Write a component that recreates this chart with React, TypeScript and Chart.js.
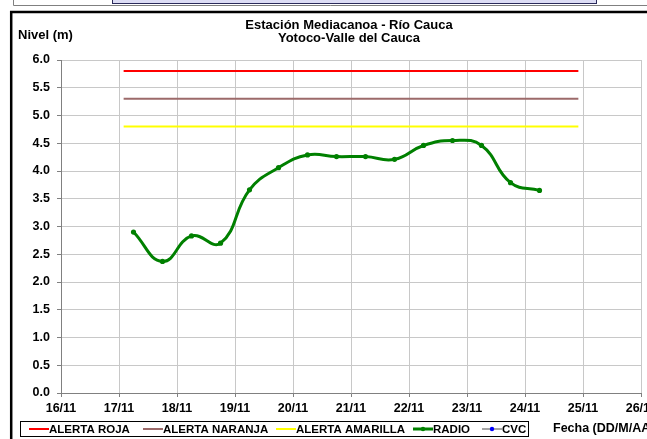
import { useEffect, useRef } from "react";
import { Chart, registerables } from "chart.js";

Chart.register(...registerables);

// ---- Data ----
const titleLines = ["Estación Mediacanoa - Río Cauca", "Yotoco-Valle del Cauca"];
const yAxisTitle = "Nivel (m)";
const xAxisTitle = "Fecha (DD/M/AA)";
const monthLabel = "11";
const xMinDay = 16;
const xMaxDay = 26;
const yMin = 0;
const yMax = 6;
const yStep = 0.5;

// Radio readings: day of November (fractional = hour of day / 24)
const radioTimes = [17.25, 17.75, 18.25, 18.75, 19.25, 19.75, 20.25, 20.75, 21.25, 21.75, 22.25, 22.75, 23.25, 23.75, 24.25];
const radioLevels = [2.9, 2.37, 2.83, 2.7, 3.66, 4.06, 4.29, 4.26, 4.26, 4.21, 4.46, 4.55, 4.46, 3.79, 3.65];

// CVC readings (none shown)
const cvcTimes: number[] = [];
const cvcLevels: number[] = [];

// Alert thresholds and their time span
const alertSpan = [17.08, 24.92];
const alertRoja = 5.8;
const alertNaranja = 5.3;
const alertAmarilla = 4.8;

const seriesNames = ["ALERTA ROJA", "ALERTA NARANJA", "ALERTA AMARILLA", "RADIO", "CVC"];

const FONT = '"Liberation Sans", Arial, sans-serif';

const COLORS = {
  roja: "#ff0000",
  naranja: "#9c6a6a",
  amarilla: "#ffff00",
  radio: "#008000",
  cvcLine: "#a6a6a6",
  cvcPoint: "#0000ff",
};

const decorPlugin = {
  id: "decor",
  afterDraw(chart: any) {
    const ctx = chart.ctx as CanvasRenderingContext2D;
    ctx.save();

    // Top remnant box
    ctx.strokeStyle = "#808080";
    ctx.lineWidth = 1;
    ctx.beginPath();
    ctx.moveTo(13.5, 0);
    ctx.lineTo(13.5, 5.5);
    ctx.lineTo(647, 5.5);
    ctx.stroke();
    ctx.fillStyle = "#dcdcf4";
    ctx.fillRect(112, -2, 484, 5);
    ctx.strokeStyle = "#2a2a5a";
    ctx.strokeRect(112.5, -2, 484, 5.5);

    // Chart frame
    ctx.strokeStyle = "#000000";
    ctx.lineWidth = 2.5;
    ctx.beginPath();
    ctx.moveTo(11.2, 439);
    ctx.lineTo(11.2, 12);
    ctx.lineTo(647, 12);
    ctx.stroke();

    // Titles
    ctx.fillStyle = "#000000";
    ctx.font = `bold 13px ${FONT}`;
    ctx.textAlign = "center";
    ctx.textBaseline = "middle";
    ctx.fillText(titleLines[0], 349, 25);
    ctx.fillText(titleLines[1], 349, 38);

    ctx.textAlign = "left";
    ctx.fillText(yAxisTitle, 18, 35);
    ctx.font = `bold 12.5px ${FONT}`;
    ctx.fillText(xAxisTitle, 553, 429);

    // Legend
    const lx = 20.5, ly = 421.5, lw = 508, lh = 15;
    ctx.fillStyle = "#ffffff";
    ctx.fillRect(lx, ly, lw, lh);
    ctx.strokeStyle = "#000000";
    ctx.lineWidth = 1;
    ctx.strokeRect(lx, ly, lw, lh);

    const cy = 429;
    ctx.font = `bold 11.5px ${FONT}`;
    ctx.textBaseline = "middle";
    const items = [
      { x: 29, color: COLORS.roja, width: 2, point: null as string | null },
      { x: 143, color: COLORS.naranja, width: 2, point: null },
      { x: 276, color: COLORS.amarilla, width: 2, point: null },
      { x: 413, color: COLORS.radio, width: 3, point: COLORS.radio },
      { x: 482, color: COLORS.cvcLine, width: 2, point: COLORS.cvcPoint },
    ];
    items.forEach((it, i) => {
      ctx.strokeStyle = it.color;
      ctx.lineWidth = it.width;
      ctx.beginPath();
      ctx.moveTo(it.x, cy);
      ctx.lineTo(it.x + 20, cy);
      ctx.stroke();
      if (it.point) {
        ctx.fillStyle = it.point;
        ctx.beginPath();
        ctx.arc(it.x + 10, cy, 2.2, 0, Math.PI * 2);
        ctx.fill();
      }
      ctx.fillStyle = "#000000";
      ctx.fillText(seriesNames[i], it.x + 20, cy + 0.5);
    });

    ctx.restore();
  },
};

export default function App() {
  const canvasRef = useRef<HTMLCanvasElement | null>(null);

  useEffect(() => {
    const canvas = canvasRef.current;
    if (!canvas) return;

    const alertLine = (v: number) => alertSpan.map((x) => ({ x, y: v }));

    const chart = new Chart(canvas, {
      type: "line",
      data: {
        datasets: [
          {
            label: seriesNames[0],
            data: alertLine(alertRoja),
            borderColor: COLORS.roja,
            borderWidth: 2,
            pointRadius: 0,
          },
          {
            label: seriesNames[1],
            data: alertLine(alertNaranja),
            borderColor: COLORS.naranja,
            borderWidth: 2,
            pointRadius: 0,
          },
          {
            label: seriesNames[2],
            data: alertLine(alertAmarilla),
            borderColor: COLORS.amarilla,
            borderWidth: 2,
            pointRadius: 0,
          },
          {
            label: seriesNames[4],
            data: cvcTimes.map((x, i) => ({ x, y: cvcLevels[i] })),
            borderColor: COLORS.cvcLine,
            borderWidth: 2,
            pointRadius: 2,
            pointBackgroundColor: COLORS.cvcPoint,
            pointBorderColor: COLORS.cvcPoint,
          },
          {
            label: seriesNames[3],
            data: radioTimes.map((x, i) => ({ x, y: radioLevels[i] })),
            borderColor: COLORS.radio,
            borderWidth: 3,
            tension: 0.45,
            pointRadius: 2.6,
            pointBorderWidth: 0,
            pointBackgroundColor: COLORS.radio,
            pointBorderColor: COLORS.radio,
          },
        ],
      },
      options: {
        responsive: false,
        animation: false,
        devicePixelRatio: 1,
        layout: { padding: { left: 0, top: 60, right: 6, bottom: 0 } },
        plugins: {
          legend: { display: false },
          title: { display: false },
          tooltip: { enabled: false },
        },
        scales: {
          x: {
            type: "linear",
            min: xMinDay,
            max: xMaxDay,
            ticks: {
              stepSize: 1,
              padding: 4,
              color: "#000000",
              font: { family: FONT, size: 12.5, weight: "bold" },
              maxRotation: 0,
              autoSkip: false,
              callback: (v: any) => `${v}/${monthLabel}`,
            },
            grid: {
              color: "#c8c8c8",
              lineWidth: 1,
              tickLength: 4,
              tickColor: "#808080",
            },
            border: { color: "#808080", width: 1 },
            afterFit: (s: any) => {
              s.height = 46;
              s.paddingLeft = 0;
              s.paddingRight = 0;
            },
          },
          y: {
            type: "linear",
            min: yMin,
            max: yMax,
            ticks: {
              stepSize: yStep,
              padding: 7,
              color: "#000000",
              font: { family: FONT, size: 12.5, weight: "bold" },
              callback: (v: any) => Number(v).toFixed(1),
            },
            grid: {
              color: "#c8c8c8",
              lineWidth: 1,
              tickLength: 4,
              tickColor: "#808080",
            },
            border: { color: "#808080", width: 1 },
            afterFit: (s: any) => {
              s.width = 61;
              s.paddingTop = 0;
              s.paddingBottom = 0;
            },
          },
        },
      },
      plugins: [decorPlugin],
    } as any);

    return () => chart.destroy();
  }, []);

  return (
    <div style={{ position: "absolute", left: 0, top: 0, width: 647, height: 439, background: "#ffffff" }}>
      <canvas ref={canvasRef} width={647} height={439} style={{ width: 647, height: 439, display: "block" }} />
    </div>
  );
}
